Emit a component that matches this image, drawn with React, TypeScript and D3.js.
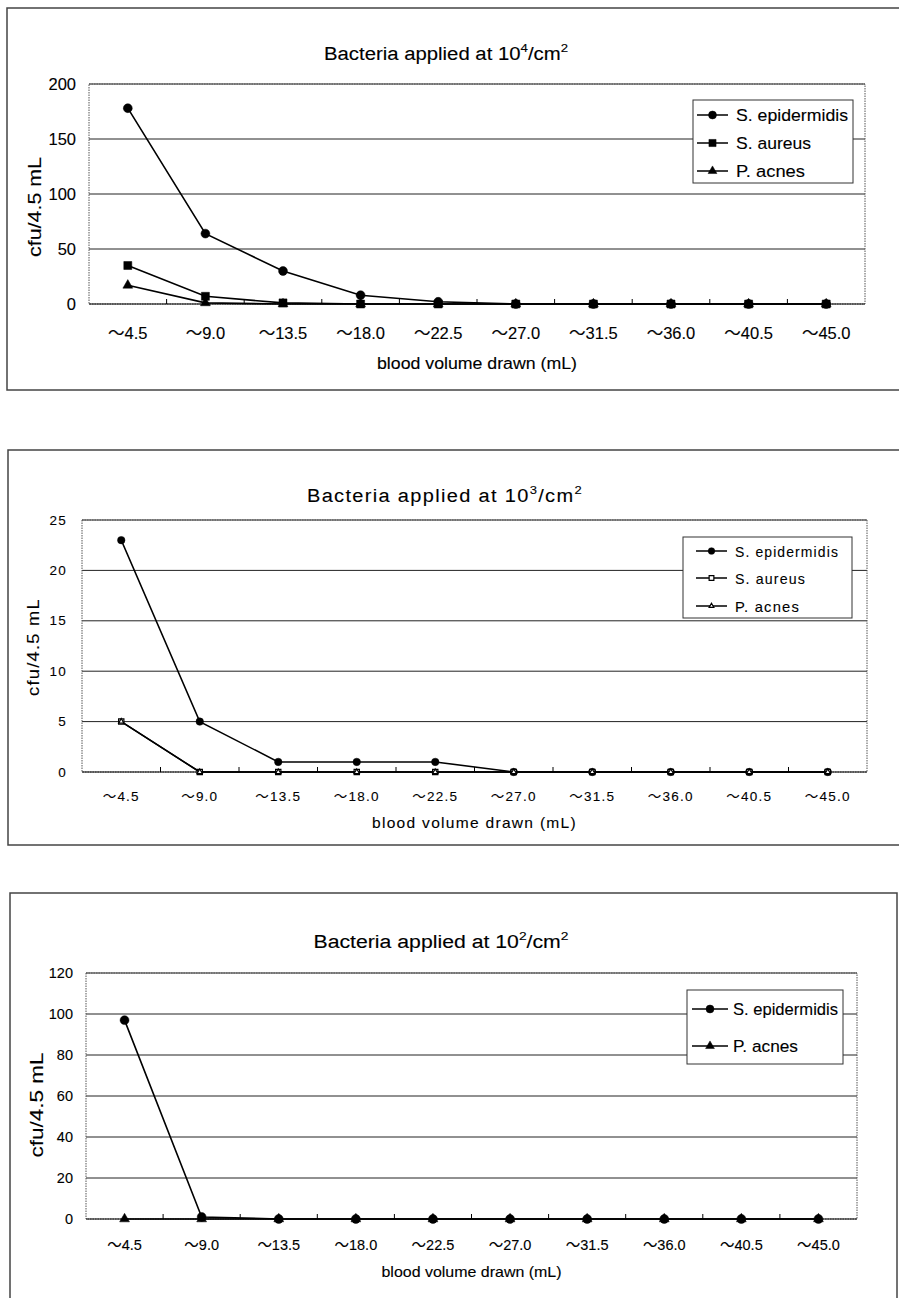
import * as d3 from "d3";
import React from "react";

// x categories shared by all three panels
const categories = ["～4.5", "～9.0", "～13.5", "～18.0", "～22.5", "～27.0", "～31.5", "～36.0", "～40.5", "～45.0"];

// 10^4 / cm2
const epi4 = [178, 64, 30, 8, 2, 0, 0, 0, 0, 0];
const aur4 = [35, 7, 1, 0, 0, 0, 0, 0, 0, 0];
const acn4 = [17, 1, 0, 0, 0, 0, 0, 0, 0, 0];
const yTicks4 = [0, 50, 100, 150, 200];

// 10^3 / cm2
const epi3 = [23, 5, 1, 1, 1, 0, 0, 0, 0, 0];
const aur3 = [5, 0, 0, 0, 0, 0, 0, 0, 0, 0];
const acn3 = [5, 0, 0, 0, 0, 0, 0, 0, 0, 0];
const yTicks3 = [0, 5, 10, 15, 20, 25];

// 10^2 / cm2
const epi2 = [97, 1, 0, 0, 0, 0, 0, 0, 0, 0];
const acn2 = [0, 0, 0, 0, 0, 0, 0, 0, 0, 0];
const yTicks2 = [0, 20, 40, 60, 80, 100, 120];

const shapes = { circle: d3.symbolCircle, square: d3.symbolSquare, triangle: d3.symbolTriangle };

const Marker = ({ shape, open, size, x, y }) => (
  <path
    transform={`translate(${x},${y})`}
    d={d3.symbol(shapes[shape], size)()}
    fill={open ? "#fff" : "#000"}
    stroke="#000"
    strokeWidth={open ? 1.2 : 0.5}
  />
);

const Panel = ({ c }) => {
  const x = d3.scaleBand().domain(categories).range([c.left, c.right]);
  const y = d3.scaleLinear().domain([0, c.yMax]).range([c.bottom, c.top]);
  const cx = (i) => x(categories[i]) + x.bandwidth() / 2;
  const line = d3.line().x((d, i) => cx(i)).y((d) => y(d));
  const font = { fontFamily: c.font, letterSpacing: c.spacing };
  const midX = (c.left + c.right) / 2;
  const ink = { stroke: "#000", strokeWidth: c.ink };

  return (
    <g style={font}>
      <rect x={c.frame[0]} y={c.frame[1]} width={c.frame[2]} height={c.frame[3]} fill="none" stroke="#444" strokeWidth={1.5} />
      <text x={c.titleX} y={c.titleY} textAnchor="middle" fontSize={c.titleSize} textLength={c.titleW} lengthAdjust="spacingAndGlyphs" {...ink}>
        Bacteria applied at 10<tspan dy={-8} fontSize={c.titleSize * 0.65}>{c.exp}</tspan>
        <tspan dy={8}>/cm</tspan>
        <tspan dy={-8} fontSize={c.titleSize * 0.65}>2</tspan>
      </text>

      {c.yTicks.filter((t) => t > 0).map((t) => (
        <line key={t} x1={c.left} x2={c.right} y1={y(t)} y2={y(t)} stroke="#222" strokeWidth={1} />
      ))}
      <rect x={c.left} y={c.top} width={c.right - c.left} height={c.bottom - c.top} fill="none" stroke="#555" strokeWidth={1} strokeDasharray="1.5,1" />
      <line x1={c.left} x2={c.right} y1={c.bottom} y2={c.bottom} stroke="#000" strokeWidth={1.2} />
      {categories.slice(1).map((cat) => (
        <line key={cat} x1={x(cat)} x2={x(cat)} y1={c.bottom} y2={c.bottom - 5} stroke="#000" />
      ))}

      {c.yTicks.map((t) => (
        <text key={t} x={c.tickRight} y={y(t)} textAnchor="end" dominantBaseline="central" fontSize={c.tickSize} {...ink}>{t}</text>
      ))}
      {categories.map((cat, i) => (
        <text key={cat} x={cx(i)} y={c.xTickY} textAnchor="middle" dominantBaseline="central" fontSize={c.tickSize} {...ink}>{cat}</text>
      ))}
      <text x={midX} y={c.xTitleY} textAnchor="middle" dominantBaseline="central" fontSize={c.xTitleSize} textLength={c.xTitleW} lengthAdjust="spacingAndGlyphs" {...ink}>
        blood volume drawn (mL)
      </text>
      <text transform={`translate(${c.yLabelX},${c.yLabelY}) rotate(-90)`} textAnchor="middle" dominantBaseline="central" fontSize={c.yLabelSize} textLength={c.yLabelW} lengthAdjust="spacingAndGlyphs" {...ink}>
        cfu/4.5 mL
      </text>

      {c.series.map((s) => (
        <g key={s.name}>
          <path d={line(s.values)} fill="none" stroke="#000" strokeWidth={c.lineWidth} />
          {s.values.map((v, i) => (
            <Marker key={i} shape={s.shape} open={s.open} size={s.size} x={cx(i)} y={y(v)} />
          ))}
        </g>
      ))}

      <rect x={c.legend[0]} y={c.legend[1]} width={c.legend[2]} height={c.legend[3]} fill="#fff" stroke="#333" strokeWidth={1} />
      {c.series.map((s, i) => {
        const ly = c.legendRows[i];
        return (
          <g key={s.name}>
            <line x1={c.legendLine[0]} x2={c.legendLine[1]} y1={ly} y2={ly} stroke="#000" strokeWidth={1.5} />
            <Marker shape={s.shape} open={s.open} size={s.size * 0.8} x={(c.legendLine[0] + c.legendLine[1]) / 2} y={ly} />
            <text x={c.legendText} y={ly} dominantBaseline="central" fontSize={c.legendSize} textLength={s.w} lengthAdjust="spacingAndGlyphs" {...ink}>
              {s.name}
            </text>
          </g>
        );
      })}
    </g>
  );
};

const sans = "'Liberation Sans', Arial, 'Noto Sans CJK JP', sans-serif";

const panels = [
  {
    frame: [7, 8, 910, 382], left: 89, right: 865, top: 84, bottom: 304, yMax: 200, yTicks: yTicks4, exp: "4",
    titleX: 446, titleY: 60, titleSize: 18, titleW: 244, tickRight: 76, tickSize: 16.5, xTickY: 333,
    xTitleY: 363, xTitleSize: 16, xTitleW: 200, yLabelX: 35, yLabelY: 207, yLabelSize: 18, yLabelW: 100,
    lineWidth: 1.6, font: sans, spacing: 0, ink: 0.12,
    legend: [693, 100, 160, 83], legendRows: [115, 143, 171], legendLine: [697, 728], legendText: 736, legendSize: 17,
    series: [
      { name: "S. epidermidis", values: epi4, shape: "circle", size: 62, w: 112 },
      { name: "S. aureus", values: aur4, shape: "square", size: 64, w: 75 },
      { name: "P. acnes", values: acn4, shape: "triangle", size: 42, w: 69 },
    ],
  },
  {
    frame: [8, 450, 910, 395], left: 82, right: 867, top: 520, bottom: 772, yMax: 25, yTicks: yTicks3, exp: "3",
    titleX: 445, titleY: 502, titleSize: 18, titleW: 276, tickRight: 67, tickSize: 13.5, xTickY: 796,
    xTitleY: 823, xTitleSize: 14.5, xTitleW: 205, yLabelX: 33, yLabelY: 647, yLabelSize: 17, yLabelW: 98,
    lineWidth: 1.5, font: sans, spacing: 1.2, ink: 0.1,
    legend: [683, 537, 169, 81], legendRows: [551, 578, 606], legendLine: [696, 727], legendText: 735, legendSize: 15,
    series: [
      { name: "S. epidermidis", values: epi3, shape: "circle", size: 44, w: 104 },
      { name: "S. aureus", values: aur3, shape: "square", size: 28, open: true, w: 71 },
      { name: "P. acnes", values: acn3, shape: "triangle", size: 12, open: true, w: 65 },
    ],
  },
  {
    frame: [10, 893, 887, 430], left: 86, right: 857, top: 973, bottom: 1219, yMax: 120, yTicks: yTicks2, exp: "2",
    titleX: 441, titleY: 948, titleSize: 18, titleW: 255, tickRight: 73, tickSize: 14.5, xTickY: 1245,
    xTitleY: 1272, xTitleSize: 14.5, xTitleW: 180, yLabelX: 37, yLabelY: 1105, yLabelSize: 18, yLabelW: 105,
    lineWidth: 1.6, font: sans, spacing: 0, ink: 0.12,
    legend: [687, 990, 156, 74], legendRows: [1009, 1046], legendLine: [692, 728], legendText: 733, legendSize: 17,
    series: [
      { name: "S. epidermidis", values: epi2, shape: "circle", size: 62, w: 105 },
      { name: "P. acnes", values: acn2, shape: "triangle", size: 42, w: 65 },
    ],
  },
];

export default function App() {
  return (
    <svg width={899} height={1298} style={{ position: "absolute", left: 0, top: 0, background: "#fff" }}>
      <rect width={899} height={1298} fill="#fff" />
      {panels.map((c, i) => (
        <Panel key={i} c={c} />
      ))}
    </svg>
  );
}
